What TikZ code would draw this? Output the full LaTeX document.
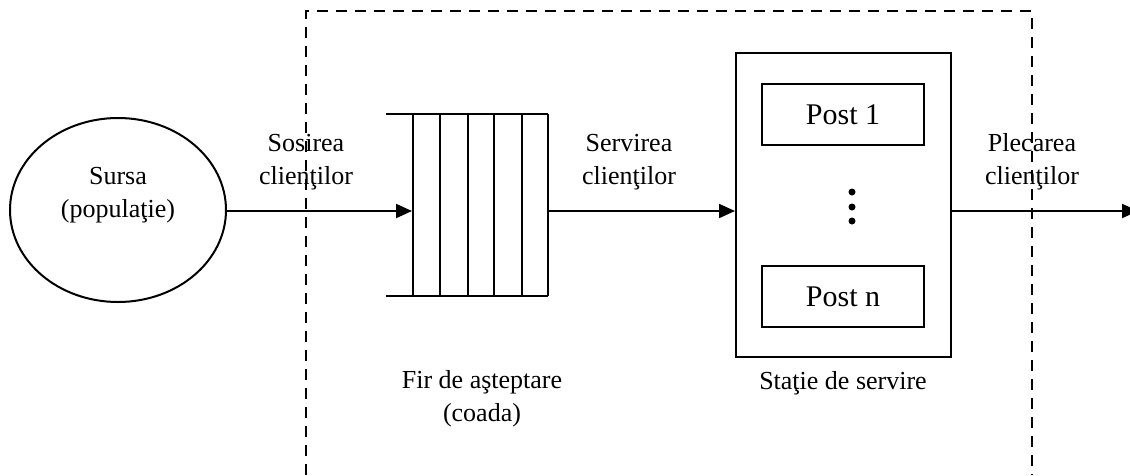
\documentclass[tikz,border=0pt]{standalone}
\usepackage{fontspec}
\setmainfont{Liberation Serif}
\usetikzlibrary{arrows.meta,shapes.geometric}
\begin{document}
\begin{tikzpicture}[x=1pt,y=-1pt,
  line width=2pt,
  lbl/.style={align=center,inner sep=0pt,font=\fontsize{26}{33}\selectfont},
  postbox/.style={draw,rectangle,minimum width=162pt,minimum height=61pt,inner sep=0pt,font=\fontsize{30}{34}\selectfont},
  arr/.style={-{Triangle[length=16pt,width=14pt]}},
  frame/.style={dash pattern=on 11pt off 8pt}]
\useasboundingbox (0,0) rectangle (1130,475);
% dashed system boundary
\draw[frame] (306,475) -- (306,11) -- (1032,11) -- (1032,475);
% source
\node[draw,ellipse,minimum width=216pt,minimum height=184pt,inner sep=0pt] (src) at (118,210) {};
\node[lbl] (srct) at (118,195) {Sursa\\(populaţie)};
% queue
\node[rectangle,minimum width=135pt,minimum height=182pt,inner sep=0pt] (q) at (480.5,205) {};
\draw (386,114) -- (548,114);
\draw (386,296) -- (548,296);
\foreach \x in {413,440,468,494,522,548} \draw (\x,114) -- (\x,296);
% station
\node[draw,rectangle,minimum width=215pt,minimum height=304pt,inner sep=0pt] (st) at (843.5,205) {};
\node[postbox] (p1) at (843,114.5) {Post 1};
\node[postbox] (pn) at (843,296.5) {Post n};
\fill (852,192) circle (3.5pt) (852,207) circle (3.5pt) (852,221) circle (3.5pt);
% connectors
\coordinate (out) at (1138,211);
\draw[arr] (src.east |- 0,211) -- (q.west |- 0,211);
\draw[arr] (q.east |- 0,211) -- (st.west |- 0,211);
\draw[arr] (st.east |- 0,211) -- (out);
% labels
\node[lbl] (l1) at (306,162) {Sosirea\\clienţilor};
\node[lbl] (l2) at (629,162) {Servirea\\clienţilor};
\node[lbl] (l3) at (1032,162) {Plecarea\\clienţilor};
\node[lbl] (l4) at (482,399) {Fir de aşteptare\\(coada)};
\node[lbl] (l5) at (843,383) {Staţie de servire};
\end{tikzpicture}
\end{document}
